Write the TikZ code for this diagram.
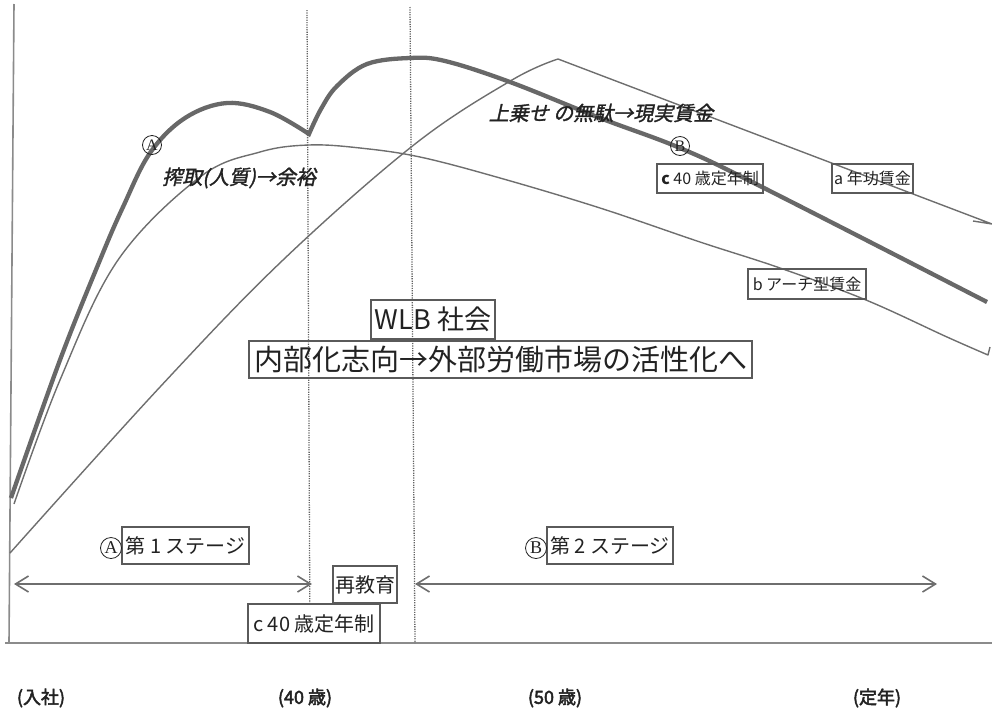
\documentclass[tikz,border=0pt]{standalone}
\usepackage{fontspec}
\setmainfont{Noto Sans CJK JP}
\newfontfamily\jpit[FakeSlant=0.22,FakeBold=1.5]{Noto Sans CJK JP}
\newfontfamily\jpbf[FakeBold=2.6]{Noto Sans CJK JP}
\newfontfamily\serifA{Liberation Serif}
\usetikzlibrary{arrows.meta}
\definecolor{lc}{HTML}{6E6E6E}
\definecolor{bc}{HTML}{5A5A5A}
\definecolor{tc}{HTML}{222222}
\tikzset{
  thincurve/.style={draw=lc, line width=1.4pt, line join=round},
  thickcurve/.style={draw=lc!95!black, line width=4.3pt, line join=miter},
  dotline/.style={draw=lc!90!black, line width=1.3pt, dash pattern=on 1.2pt off 1.2pt},
  axisline/.style={draw=lc!80, line width=1.6pt},
  lbox/.style={draw=bc, line width=1.1pt, inner sep=0pt, text=tc, align=center},
  circ/.style={circle, draw=tc, line width=0.8pt, inner sep=0pt, minimum size=19pt, text=tc,
    font=\serifA\fontsize{16}{16}\selectfont},
  stagearrow/.style={draw=lc, line width=1.6pt,
    {Straight Barb[length=13pt,width=16pt,line width=1.6pt]}-{Straight Barb[length=13pt,width=16pt,line width=1.6pt]}},
  itlabel/.style={text=tc, font=\jpit\fontsize{20}{22}\selectfont},
  axlabel/.style={text=tc, font=\jpbf\fontsize{18}{20}\selectfont},
}
\begin{document}
\begin{tikzpicture}[x=1pt,y=-1pt]
\useasboundingbox (0,0) rectangle (992,710);
% axes
\coordinate (ytop) at (14,4);
\coordinate (ybot) at (9,643);
\coordinate (xl) at (5,643);
\coordinate (xr) at (992,643);
\draw[axisline] (ytop) -- (ybot);
\draw[axisline] (xl) -- (xr);
% dotted verticals
\coordinate (d1t) at (307,10);
\coordinate (d1b) at (310,643);
\coordinate (d2t) at (410,7);
\coordinate (d2b) at (415,643);
\draw[dotline] (d1t) -- (d1b);
\draw[dotline] (d2t) -- (d2b);
% a: seniority wage
\draw[thincurve] plot[smooth, tension=0.6] coordinates {(10,553) (160,387) (283,260) (415,144) (512,80) (558,59)}
  -- (992,224) -- (973,221);
% b: arch wage
\draw[thincurve] plot[smooth, tension=0.6] coordinates {(14,504) (60,380) (118,260) (200,177) (260,152) (309,145) (360,148) (420,157) (500,178) (600,208) (700,242) (780,268) (866,300) (947,337) (988,355)}
  -- (990,347);
% c: 40 retirement (thick)
\draw[thickcurve] plot[smooth, tension=0.6] coordinates {(11,498) (60,360) (100,260) (123,207) (150,153) (185,118) (227,103) (270,112) (309,134)}
  -- plot[smooth, tension=0.6] coordinates {(309,134) (321,109) (337,86) (367,64) (410,58) (445,61) (510,82) (600,118) (680,148) (760,186) (987,302)};
% circled markers on curve
\node[circ] (cA) at (152,145) {A};
\node[circ] (cB) at (680,146) {B};
% italic labels
\node[itlabel] (exploit) at (239,178) {搾取(人質)→余裕};
\node[itlabel] (waste) at (601,113) {上乗せ の無駄→現実賃金};
% curve labels
\node[lbox, minimum width=106pt, minimum height=29pt, font=\fontsize{16}{18}\selectfont] (lc40) at (710,178.5) {\textbf{c} 40 歳定年制};
\node[lbox, minimum width=81pt, minimum height=29pt, font=\fontsize{16}{18}\selectfont] (la) at (872.5,178.5) {a 年功賃金};
\node[lbox, minimum width=118pt, minimum height=30pt, font=\fontsize{16}{18}\selectfont] (lb) at (807,284) {b アーチ型賃金};
% central boxes
\node[lbox, minimum width=124pt, minimum height=39pt, font=\fontsize{27}{29}\selectfont] (wlb) at (433,319.5) {WLB 社会};
\node[lbox, minimum width=503pt, minimum height=37pt, font=\fontsize{29}{31}\selectfont] (big) at (500.5,359.5) {内部化志向→外部労働市場の活性化へ};
% stages
\node[lbox, minimum width=127pt, minimum height=37pt, font=\fontsize{20}{22}\selectfont] (st1) at (185.5,545.5) {第 1 ステージ};
\node[circ, minimum size=21pt, font=\serifA\fontsize{18}{18}\selectfont] (sA) at (111,548) {A};
\node[lbox, minimum width=126pt, minimum height=37pt, font=\fontsize{20}{22}\selectfont] (st2) at (610,545.5) {第 2 ステージ};
\node[circ, minimum size=21pt, font=\serifA\fontsize{18}{18}\selectfont] (sB) at (536,548) {B};
\coordinate (a1l) at (14,584);
\coordinate (a1r) at (312,584);
\coordinate (a2l) at (415,584);
\coordinate (a2r) at (937,584);
\draw[stagearrow] (a1l) -- (a1r);
\draw[stagearrow] (a2l) -- (a2r);
\node[lbox, fill=white, minimum width=64pt, minimum height=37pt, font=\fontsize{20}{22}\selectfont] (reedu) at (365,584.5) {再教育};
\node[lbox, fill=white, minimum width=132pt, minimum height=39pt, font=\fontsize{20}{22}\selectfont] (c40b) at (314,623.5) {c 40 歳定年制};
% axis labels
\node[axlabel] (t0) at (41,698) {(入社)};
\node[axlabel] (t40) at (305,698) {(40 歳)};
\node[axlabel] (t50) at (555,698) {(50 歳)};
\node[axlabel] (tend) at (877,698) {(定年)};
\end{tikzpicture}
\end{document}
